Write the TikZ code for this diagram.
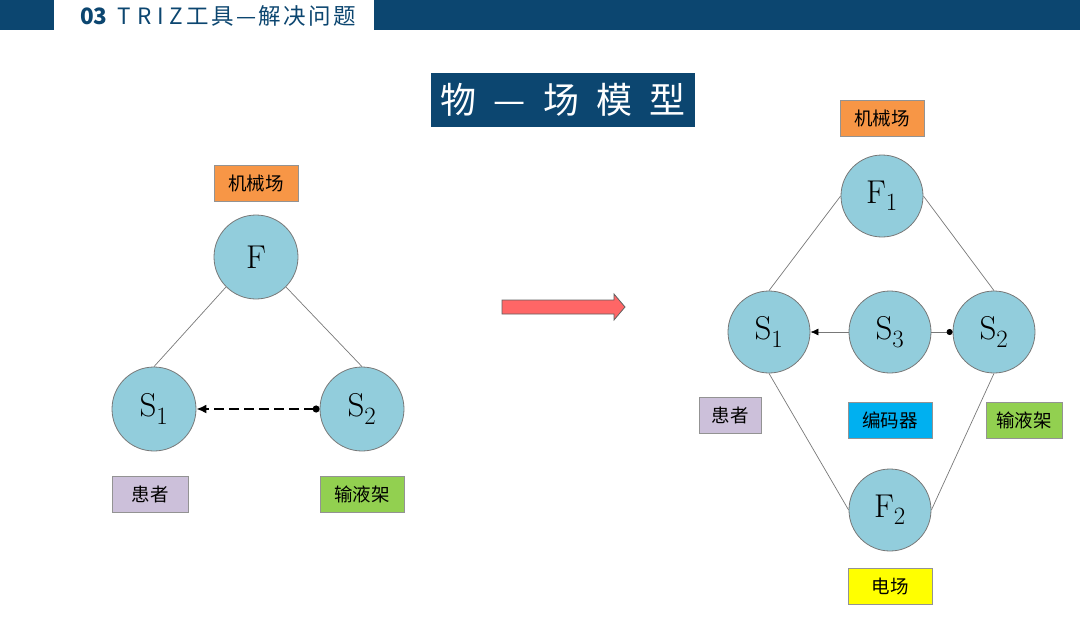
\documentclass[tikz,border=0pt]{standalone}
\usepackage{fontspec}
\newfontfamily\cjk{Noto Sans CJK SC}
\usetikzlibrary{arrows.meta}
\definecolor{navy}{RGB}{12,70,112}
\definecolor{cblue}{RGB}{146,205,220}
\definecolor{corange}{RGB}{247,150,70}
\definecolor{clav}{RGB}{204,192,218}
\definecolor{cgreen}{RGB}{146,208,80}
\definecolor{ccyan}{RGB}{0,176,240}
\definecolor{cyel}{RGB}{255,255,0}
\definecolor{cred}{RGB}{255,102,102}
\definecolor{edge}{RGB}{120,120,120}
\newcommand{\hs}{\hspace{2.5pt}}
\tikzset{
  circ/.style={circle, minimum size=84pt, inner sep=0pt, fill=cblue, draw=edge, line width=0.8pt, font=\fontsize{33}{36}\selectfont},
  lbl/.style={rectangle, minimum width=84pt, minimum height=36pt, inner sep=0pt, draw=edge!80, line width=0.8pt, font=\cjk\fontsize{18.5}{20}\selectfont},
  link/.style={draw=edge, line width=0.7pt},
}
\begin{document}
\begin{tikzpicture}[x=1pt,y=-1pt]
\useasboundingbox (0,0) rectangle (1080,630);
% header
\fill[navy] (0,0) rectangle (1080,30);
\fill[white] (54,0) rectangle (374,30);
\node[anchor=west, inner sep=0pt, text=navy, font=\cjk\fontsize{22.5}{24}\selectfont] (hdr) at (80,16) {\textbf{03}\hspace{10pt}T\hspace{6pt}R\hspace{6pt}I\hspace{6pt}Z\hs 工\hs 具\hs —\hs 解\hs 决\hs 问\hs 题};
% title
\node[fill=navy, minimum width=264pt, minimum height=54pt, inner sep=0pt, text=white, font=\cjk\fontsize{36}{40}\selectfont] (title) at (563,100) {物\hspace{17pt}—\hspace{17pt}场\hspace{17pt}模\hspace{17pt}型};

% left diagram
\node[lbl, fill=corange] (lmech) at (256,183) {机械场};
\node[circ] (F) at (256,257) {$\mathrm{F}$};
\node[circ] (lS1) at (154,409) {$\mathrm{S}_1$};
\node[circ] (lS2) at (362,409) {$\mathrm{S}_2$};
\node[lbl, fill=clav, minimum width=76pt] (lpat) at (150,494.5) {患者};
\node[lbl, fill=cgreen] (lrack) at (362,494.5) {输液架};
\draw[link] (F.225) -- (lS1.north);
\draw[link] (F.-45) -- (lS2.north);
\draw[line width=1.8pt, dash pattern=on 10pt off 5pt, {Circle[length=7pt]}-{Latex[length=10pt,width=9pt]}] (lS2.west) -- (lS1.east);

% block arrow
\filldraw[fill=cred, draw=edge!80!black, line width=0.8pt] (502,300) -- (614,300) -- (614,294) -- (625,307) -- (614,320) -- (614,314) -- (502,314) -- cycle;

% right diagram
\node[lbl, fill=corange] (rmech) at (882,118) {机械场};
\node[circ, minimum size=82pt] (F1) at (882,196) {$\mathrm{F}_1$};
\node[circ, minimum size=82pt] (rS1) at (769,332) {$\mathrm{S}_1$};
\node[circ, minimum size=82pt] (rS3) at (890,332) {$\mathrm{S}_3$};
\node[circ, minimum size=82pt] (rS2) at (994,332) {$\mathrm{S}_2$};
\node[circ, minimum size=82pt] (F2) at (890,510) {$\mathrm{F}_2$};
\node[lbl, fill=clav, minimum width=62pt] (rpat) at (730,415.5) {患者};
\node[lbl, fill=ccyan] (coder) at (890,420) {编码器};
\node[lbl, fill=cgreen, minimum width=76pt] (rrack) at (1024,420) {输液架};
\node[lbl, fill=cyel] (efield) at (890,586.5) {电场};
\draw[link] (F1.west) -- (rS1.north);
\draw[link] (F1.east) -- (rS2.north);
\draw[link] (rS1.south) -- (F2.west);
\draw[link] (rS2.south) -- (F2.east);
\draw[link, -{Latex[length=8pt,width=7pt,color=black]}] (rS3.west) -- (rS1.east);
\draw[link, -{Circle[length=6pt,color=black]}] (rS3.east) -- (rS2.west);
\end{tikzpicture}
\end{document}
